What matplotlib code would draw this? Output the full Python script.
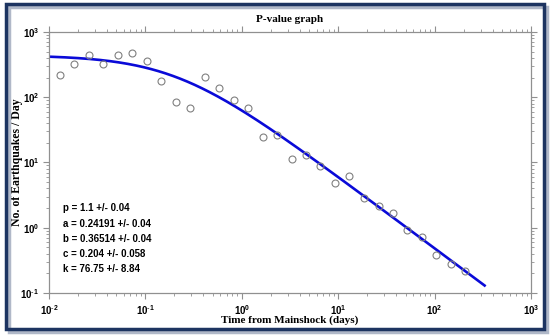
import numpy as np
import matplotlib
matplotlib.use('Agg')
import matplotlib.pyplot as plt
from matplotlib.ticker import LogLocator, FuncFormatter, NullFormatter
from matplotlib.patches import Rectangle

# data ----------------------------------------------
days = [0.0130, 0.0183, 0.0258, 0.0366, 0.0516, 0.0731, 0.104, 0.146, 0.207,
        0.292, 0.412, 0.580, 0.824, 1.16, 1.65, 2.30, 3.30, 4.60, 6.47, 9.26,
        13.0, 18.4, 26.3, 37.0, 52.1, 74.0, 104, 147, 207]
rate = [222, 320, 449, 320, 449, 472, 363, 179, 84.6, 69.2, 204, 137, 90.8,
        69.2, 24.6, 26.7, 11.3, 12.9, 8.93, 4.90, 6.28, 2.89, 2.18, 1.68,
        0.914, 0.729, 0.378, 0.281, 0.215]

# omori fit parameters (as printed on the chart)
p_val, k_val, c_val = 1.1, 76.75, 0.204
fit_lines = ['p = 1.1 +/- 0.04',
             'a = 0.24191 +/- 0.04',
             'b = 0.36514 +/- 0.04',
             'c = 0.204 +/- 0.058',
             'k = 76.75 +/- 8.84']

plt.rcParams['mathtext.fontset'] = 'custom'
plt.rcParams['mathtext.bf'] = 'Liberation Sans:bold'


def pow_label(v, pos):
    e = str(round(np.log10(v))).replace('-', r'\text{-}')
    return r'$\mathbf{10^{%s}}$' % e


fig = plt.figure(figsize=(5.5, 3.35), dpi=100)
ax = fig.add_axes([0.0891, 0.1254, 0.8764, 0.7791])

t = np.logspace(-2, np.log10(330), 300)
ax.plot(t, k_val / (t + c_val) ** p_val, color='#0a0ad8', lw=1.9, zorder=2)
ax.plot(days, rate, 'o', mfc='none', mec='#808080', ms=5, mew=0.8, zorder=3)

ax.set_xscale('log')
ax.set_yscale('log')
ax.set_xlim(1e-2, 1e3)
ax.set_ylim(1e-1, 1e3)

for axis in (ax.xaxis, ax.yaxis):
    axis.set_major_locator(LogLocator(base=10, numticks=10))
    axis.set_minor_locator(LogLocator(base=10, subs=np.arange(2, 10), numticks=10))
    axis.set_major_formatter(FuncFormatter(pow_label))
    axis.set_minor_formatter(NullFormatter())

ax.tick_params(which='both', direction='out', color='#909090',
               top=True, right=True, labelsize=7)
ax.tick_params(which='major', length=4, width=0.8)
ax.tick_params(which='minor', length=2.5, width=0.6)
ax.tick_params(axis='x', pad=3.5)
ax.tick_params(axis='y', pad=3)
for s in ax.spines.values():
    s.set_color('#909090')
    s.set_linewidth(0.9)

ax.set_title('P-value graph', fontfamily='Liberation Serif', fontweight='bold',
             fontsize=8, pad=7)
ax.set_ylabel('No. of Earthquakes / Day', fontfamily='Liberation Serif',
              fontweight='bold', fontsize=8.5)
ax.set_xlabel('Time from Mainshock (days)', fontfamily='Liberation Serif',
              fontweight='bold', fontsize=8)
ax.yaxis.set_label_coords(-0.053, 0.5)
ax.xaxis.set_label_coords(0.5, -0.087)

ys = [0.326, 0.264, 0.207, 0.149, 0.092]
for txt, yy in zip(fit_lines, ys):
    ax.text(0.029, yy, txt, transform=ax.transAxes, fontsize=7,
            fontweight='bold', va='center',
            family=['Liberation Sans Narrow', 'Liberation Sans', 'DejaVu Sans'])

# frame around the picture
fig.patches.append(Rectangle((9 / 550, 3 / 335), 538 / 550, 325 / 335,
                             transform=fig.transFigure, fill=False,
                             ec='#b0b8c8', lw=2.5))
fig.patches.append(Rectangle((6 / 550, 6 / 335), 538 / 550, 325 / 335,
                             transform=fig.transFigure, fill=False,
                             ec='#1d3461', lw=2.5))

fig.savefig('out.png', dpi=100)
